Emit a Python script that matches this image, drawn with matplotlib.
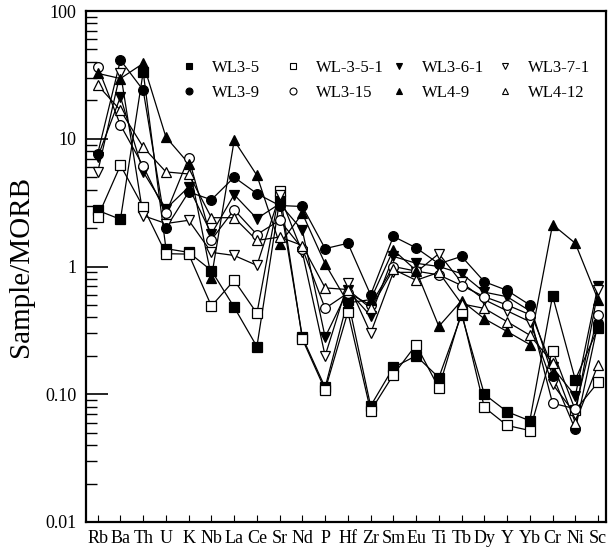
from matplotlib import pyplot as plt
from matplotlib.ticker import NullFormatter, LogLocator

plt.rcParams['font.family'] = ['Liberation Serif', 'DejaVu Serif']

elements = ['Rb', 'Ba', 'Th', 'U', 'K', 'Nb', 'La', 'Ce', 'Sr', 'Nd', 'P', 'Hf',
            'Zr', 'Sm', 'Eu', 'Ti', 'Tb', 'Dy', 'Y', 'Yb', 'Cr', 'Ni', 'Sc']

# Sample/MORB values
wl3_5 = [2.75, 2.34, 33.4, 1.38, 1.29, 0.93, 0.48, 0.236, 3.3, 0.279, 0.113, 0.55,
         0.081, 0.162, 0.20, 0.135, 0.42, 0.10, 0.073, 0.062, 0.59, 0.13, 0.33]
wl_3_5_1 = [2.44, 6.2, 2.92, 1.26, 1.25, 0.49, 0.78, 0.43, 3.9, 0.27, 0.108, 0.44,
            0.074, 0.142, 0.244, 0.112, 0.44, 0.079, 0.057, 0.052, 0.22, 0.075, 0.124]
wl3_6_1 = [7.2, 21.3, 5.5, 2.83, 4.19, 1.8, 3.65, 2.37, 3.1, 1.92, 0.28, 0.65,
           0.41, 1.2, 1.06, 1.0, 0.88, 0.63, 0.58, 0.45, 0.162, 0.097, 0.71]
wl3_7_1 = [5.5, 33.0, 2.5, 2.17, 2.3, 1.29, 1.22, 1.02, 3.6, 1.29, 0.20, 0.74,
           0.30, 0.9, 0.9, 1.26, 0.75, 0.55, 0.45, 0.37, 0.12, 0.07, 0.65]
wl3_9 = [7.65, 41.3, 24.0, 2.0, 3.83, 3.33, 5.0, 3.72, 3.0, 2.95, 1.38, 1.52,
         0.6, 1.72, 1.4, 1.05, 1.2, 0.76, 0.65, 0.50, 0.14, 0.053, 0.36]
wl3_15 = [36.6, 12.8, 6.1, 2.6, 7.07, 1.62, 2.78, 1.78, 2.3, 1.38, 0.47, 0.62,
          0.5, 1.0, 0.92, 0.86, 0.71, 0.58, 0.50, 0.42, 0.085, 0.077, 0.42]
wl4_9 = [32.5, 29.6, 38.9, 10.3, 6.4, 0.82, 9.7, 5.17, 1.5, 2.6, 1.05, 0.52,
         0.55, 1.35, 0.93, 0.34, 0.54, 0.39, 0.31, 0.245, 2.13, 1.52, 0.55]
wl4_12 = [26.3, 16.7, 8.6, 5.5, 5.3, 2.41, 2.41, 1.6, 1.7, 1.46, 0.68, 0.66,
          0.47, 0.95, 0.78, 0.9, 0.51, 0.47, 0.37, 0.29, 0.177, 0.06, 0.17]

series = [wl3_5, wl_3_5_1, wl3_6_1, wl3_7_1, wl3_9, wl3_15, wl4_9, wl4_12]
names = ['WL3-5', 'WL-3-5-1', 'WL3-6-1', 'WL3-7-1', 'WL3-9', 'WL3-15', 'WL4-9', 'WL4-12']
markers = ['s', 's', 'v', 'v', 'o', 'o', '^', '^']
fills = ['black', 'white', 'black', 'white', 'black', 'white', 'black', 'white']

fig = plt.figure(figsize=(6.12, 5.54), dpi=100)
ax = fig.add_axes([86 / 612, 32 / 554, 520 / 612, 511 / 554])

x = list(range(len(elements)))
handles = []
for vals, name, m, fc in zip(series, names, markers, fills):
    ax.plot(x, vals, color='black', lw=0.9, zorder=2)
    ax.plot(x, vals, ls='none', marker=m, ms=7, mfc=fc, mec='black', mew=0.9, zorder=3)
    h, = ax.plot([], [], ls='none', marker=m, ms=5, mfc=fc, mec='black', mew=0.8)
    handles.append(h)

ax.set_yscale('log')
ax.set_ylim(0.01, 100)
ax.set_xlim(-0.515, 22.35)

ax.set_yticks([0.01, 0.1, 1, 10, 100])
ax.set_yticklabels(['0.01', '0.10', '1', '10', '100'])
ax.yaxis.set_minor_locator(LogLocator(base=10, subs=range(2, 10)))
ax.yaxis.set_minor_formatter(NullFormatter())
ax.tick_params(axis='y', which='major', direction='in', length=16, width=1.2,
               labelsize=13, pad=7, right=False)
ax.tick_params(axis='y', which='minor', direction='in', length=8, width=1.0, right=False)

ax.set_xticks(x)
ax.set_xticklabels(elements)
ax.tick_params(axis='x', direction='in', length=5, width=0.8, labelsize=13, pad=6, top=False)

for s in ax.spines.values():
    s.set_linewidth(1.6)

ax.set_ylabel('Sample/MORB', fontsize=21, labelpad=8)

# legend laid out as 4 columns of 2 rows
col_x = [0.182, 0.382, 0.585, 0.79]
for i in range(4):
    lg = ax.legend([handles[i], handles[i + 4]], [names[i], names[i + 4]],
                   loc='upper left', bbox_to_anchor=(col_x[i], 0.905),
                   frameon=False, fontsize=12, handlelength=1.0, handletextpad=0.9,
                   labelspacing=0.55, borderpad=0, borderaxespad=0)
    if i < 3:
        ax.add_artist(lg)

fig.savefig('out.png', dpi=100)
